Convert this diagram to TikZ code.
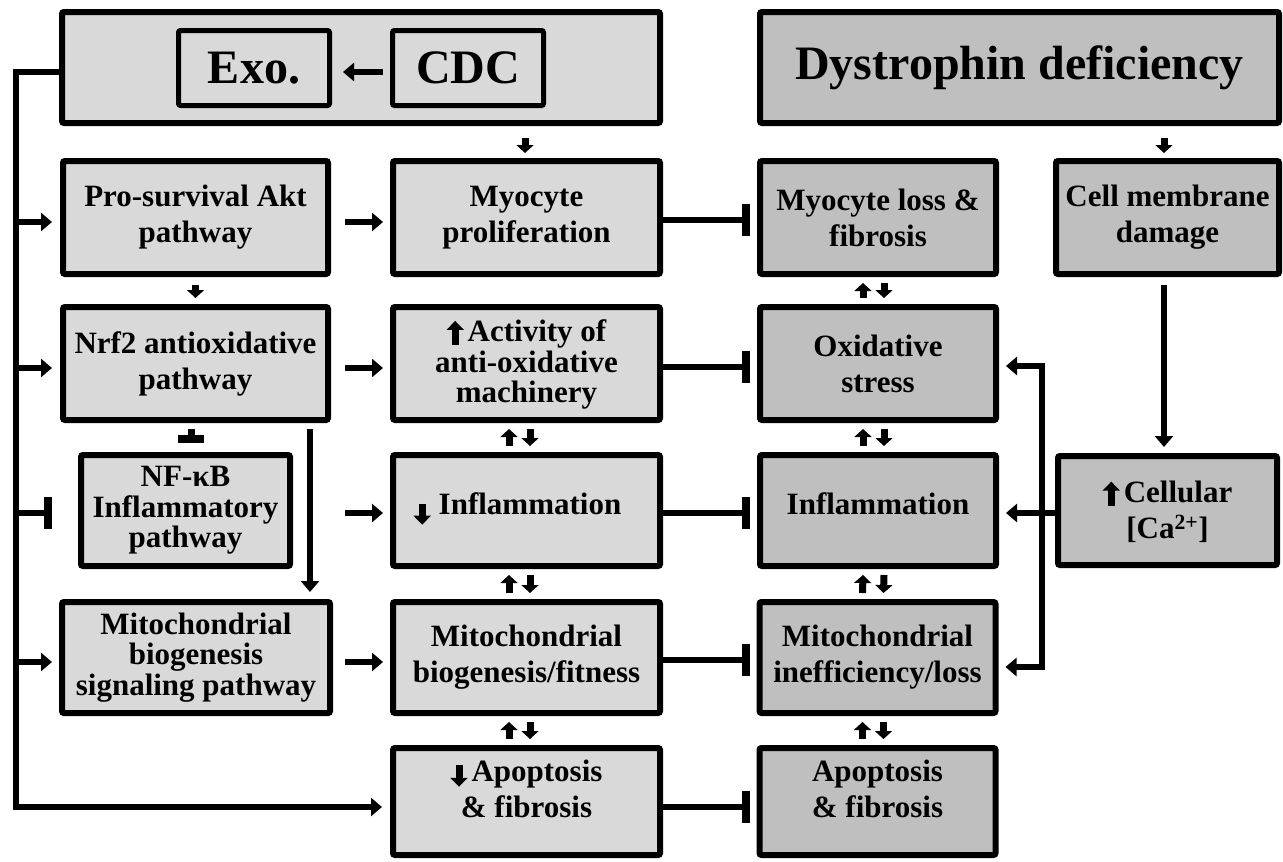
\documentclass[tikz,border=0pt]{standalone}
\usepackage{fontspec}
\setmainfont{Liberation Serif}
\usetikzlibrary{arrows.meta,calc}
\definecolor{lightg}{HTML}{D9D9D9}
\definecolor{darkg}{HTML}{BFBFBF}
\newcommand\tup{\tikz[baseline=0pt]\draw[line width=7pt,-{Triangle[length=9pt,width=17pt]}] (0,-3pt) -- (0,21pt);}
\newcommand\tdown{\tikz[baseline=0pt]\draw[line width=7pt,-{Triangle[length=9pt,width=17pt]}] (0,11pt) -- (0,-10pt);}
\newcommand\tdownhi{\tikz[baseline=0pt]\draw[line width=7pt,-{Triangle[length=9pt,width=17pt]}] (0,17pt) -- (0,-5pt);}
\newcommand\lowerdepth[1]{\rule[-#1]{0pt}{0pt}}
\begin{document}
\begin{tikzpicture}[x=1pt,y=-1pt,
  box/.style={draw, line width=6pt, rounded corners=2pt, align=center, inner sep=0pt,
    font=\fontsize{31}{36}\selectfont\bfseries},
  three/.style={font=\fontsize{31}{30.5}\selectfont\bfseries},
  big/.style={font=\fontsize{48}{54}\selectfont\bfseries},
  lbox/.style={box, fill=lightg},
  dbox/.style={box, fill=darkg},
  arr/.style={line width=6pt, line join=miter, -{Triangle[length=11pt,width=18pt]}},
  arrtwo/.style={line width=6pt, line join=miter, {Triangle[length=11pt,width=18pt]}-{Triangle[length=11pt,width=18pt]}},
  sarr/.style={line width=7pt, -{Triangle[length=8pt,width=17pt]}},
  inh/.style={line width=6pt, -{Bar[width=32pt,line width=8pt]}},
  col1/.style={minimum width=265pt},
  col2/.style={minimum width=267pt},
  col3/.style={minimum width=236pt},
  col4/.style={minimum width=223pt},
  rowh/.style={minimum height=113pt}
]
\useasboundingbox (0,0) rectangle (1283,862);

% top row
\node[lbox, minimum width=598pt, minimum height=111pt] (top) at (361,67.5) {};
\node[lbox, big, line width=5pt, minimum width=151pt, minimum height=75pt] (exo) at (254,68) {Exo.};
\node[lbox, big, line width=5pt, minimum width=151pt, minimum height=75pt] (cdc) at (468,68) {CDC};
\node[dbox, big, minimum width=519pt, minimum height=111pt] (dys) at (1019.5,67.5) {Dystrophin deficiency};

% row 2
\node[lbox, col1, rowh] (akt) at (195.5,217.5) {Pro-survival Akt\\pathway};
\node[lbox, col2, rowh] (myo) at (526.5,217.5) {Myocyte\\proliferation};
\node[dbox, col3, rowh] (myoloss) at (878,217.5) {Myocyte loss \&\\fibrosis};
\node[dbox, col4, rowh] (cmd) at (1167.5,217.5) {Cell membrane\\damage};

% row 3
\node[lbox, col1, rowh] (nrf) at (195.5,363.5) {Nrf2 antioxidative\\pathway};
\node[lbox, col2, rowh, three] (act) at (526.5,363.5) {\tup\hspace{4pt}Activity of\\anti-oxidative\\machinery};
\node[dbox, col3, rowh] (ox) at (878,363.5) {Oxidative\\stress};

% row 4
\node[lbox, three, minimum width=209pt, minimum height=111pt] (nfkb) at (185.5,510.5) {NF-κB\\Inflammatory\\pathway};
\node[lbox, col2, minimum height=111pt] (infl) at (526.5,510.5) {\tdown\hspace{8pt}Inflammation\hspace{18pt}};
\node[dbox, col3, minimum height=111pt] (infl2) at (878,510.5) {Inflammation\lowerdepth{14pt}};
\node[dbox, minimum width=219pt, minimum height=109pt] (ca) at (1167.5,510.5) {\tup\hspace{4pt}Cellular\\{}[Ca\textsuperscript{2+}]};

% row 5
\node[lbox, three, minimum width=268pt, minimum height=111pt] (mitos) at (196,657.5) {Mitochondrial\\biogenesis\\signaling pathway};
\node[lbox, col2, minimum height=111pt] (mitob) at (526.5,657.5) {Mitochondrial\\biogenesis/fitness};
\node[dbox, col3, minimum height=111pt] (mitoi) at (877.5,657.5) {Mitochondrial\\inefficiency/loss};

% row 6
\node[lbox, col2, minimum height=107pt] (apo1) at (526.5,801.5) {\tdownhi\hspace{4pt}Apoptosis\\\& fibrosis\lowerdepth{25pt}};
\node[dbox, col3, minimum height=107pt] (apo2) at (877.5,801.5) {Apoptosis\\\& fibrosis\lowerdepth{25pt}};

% CDC -> Exo
\draw[arr, shorten <=7pt, shorten >=11pt] ($(cdc.west)+(0,4)$) -- ($(exo.east)+(0,4)$);

% left trunk
\coordinate (ttop) at (16,72);
\coordinate (tbot) at (16,807);
\coordinate (t2) at (16,222);
\coordinate (t3) at (16,368);
\coordinate (t4) at (16,513);
\coordinate (t5) at (16,662);
\draw[arr, shorten >=8pt] (ttop -| top.west) -- (ttop) -- (tbot) -- (tbot -| apo1.west);
\draw[arr, shorten >=8pt] (t2) -- (t2 -| akt.west);
\draw[arr, shorten >=8pt] (t3) -- (t3 -| nrf.west);
\draw[inh, shorten >=26pt] (t4) -- (t4 -| nfkb.west);
\draw[arr, shorten >=7pt] (t5) -- (t5 -| mitos.west);

% column 1 -> column 2
\draw[arr] ($(akt.east)+(14,4.5)$) -- ($(myo.west)+(-7,4.5)$);
\draw[arr] ($(nrf.east)+(14,4.5)$) -- ($(act.west)+(-7,4.5)$);
\draw[arr] ($(nfkb.east)+(52,2.5)$) -- ($(infl.west)+(-7,2.5)$);
\draw[arr] ($(mitos.east)+(12,4.5)$) -- ($(mitob.west)+(-7,4.5)$);

% column 2 -| column 3
\draw[inh] ($(myo.east)+(0,2.5)$) -- ($(myoloss.west)+(-7,2.5)$);
\draw[inh] ($(act.east)+(0,3.5)$) -- ($(ox.west)+(-7,3.5)$);
\draw[inh] ($(infl.east)+(0,2.5)$) -- ($(infl2.west)+(-7,2.5)$);
\draw[inh] ($(mitob.east)+(0,2.5)$) -- ($(mitoi.west)+(-7,2.5)$);
\draw[inh] ($(apo1.east)+(0,5.5)$) -- ($(apo2.west)+(-7,5.5)$);

% short vertical arrows
\draw[sarr] ($(myo.north)+(-1.5,-20)$) -- ($(myo.north)+(-1.5,-5)$);
\draw[sarr] ($(cmd.north)+(-3.5,-20)$) -- ($(cmd.north)+(-3.5,-5)$);
\draw[sarr] ($(akt.south)+(0,8)$) -- ($(nrf.north)+(0,-6)$);

% Nrf2 -| NF-kB
\draw[line width=7pt, -{Bar[width=26pt,line width=8pt]}] ($(nrf.south)+(-4.5,6)$) -- ($(nfkb.north)+(5.5,-9)$);

% Nrf2 -> mitochondrial signaling
\path ($(nrf.south east)+(-21,6)$) coordinate (v1);
\draw[arr, shorten >=7pt] (v1) -- (v1 |- mitos.north);

% column 2 paired arrows
\foreach \a/\b in {act/infl, infl/mitob, mitob/apo1}{
  \draw[sarr] ($(\b.north)+(-17.5,-6)$) -- ($(\a.south)+(-17.5,6)$);
  \draw[sarr] ($(\a.south)+(3.5,6)$) -- ($(\b.north)+(3.5,-6)$);
}
% column 3 paired arrows
\foreach \a/\b in {myoloss/ox, ox/infl2, infl2/mitoi, mitoi/apo2}{
  \draw[sarr] ($(\b.north)+(-15,-6)$) -- ($(\a.south)+(-15,6)$);
  \draw[sarr] ($(\a.south)+(6,6)$) -- ($(\b.north)+(6,-6)$);
}

% right side
\draw[arr] ($(cmd.south)+(-3.5,8)$) -- ($(ca.north)+(-3.5,-6)$);
\coordinate (bkt) at (1042,366);
\coordinate (bkb) at (1042,667);
\draw[arrtwo, shorten <=7pt, shorten >=7pt] (bkt -| ox.east) -- (bkt) -- (bkb) -- (bkb -| mitoi.east);
\draw[arr, shorten >=7pt] ($(ca.west)+(0,2.5)$) -- ($(infl2.east)+(0,2.5)$);
\end{tikzpicture}
\end{document}
